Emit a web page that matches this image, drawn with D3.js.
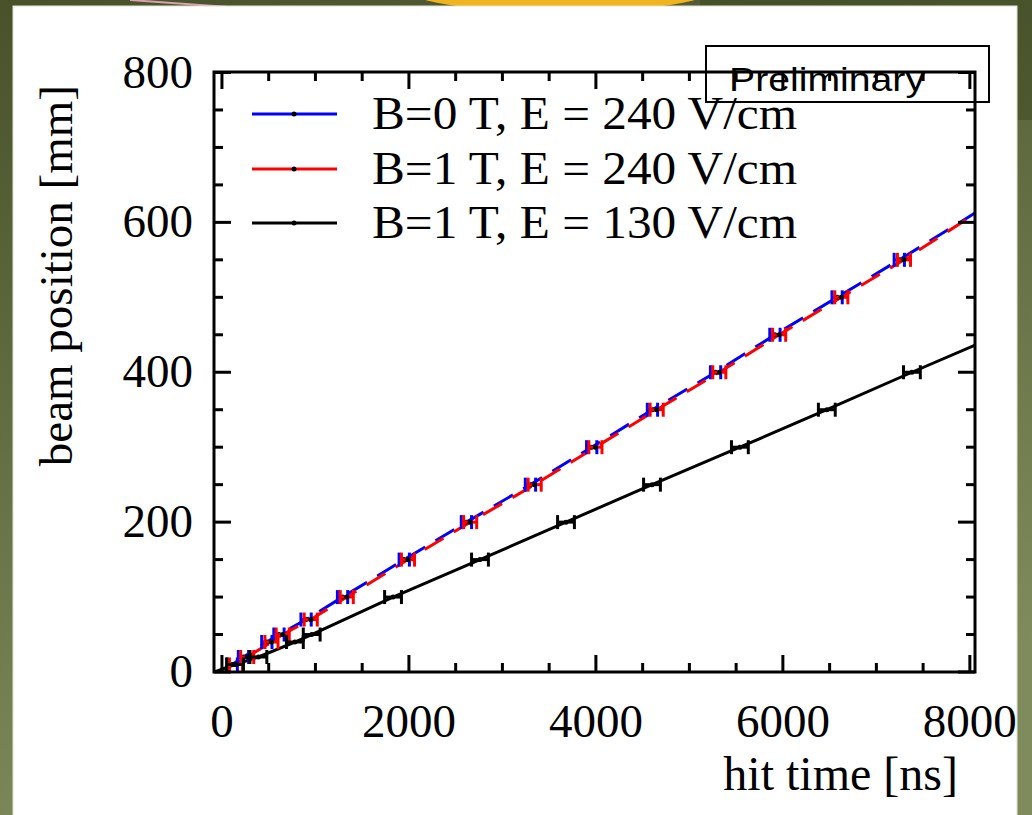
<!DOCTYPE html>
<html>
<head>
<meta charset="utf-8">
<script src="https://cdn.jsdelivr.net/npm/d3@7"></script>
<style>
  html, body { margin: 0; padding: 0; }
  body { width: 1032px; height: 815px; overflow: hidden; }
  svg { display: block; }
</style>
</head>
<body>
<div id="chart"></div>
<script>
/* Data */
const X_TICKS = [0, 2000, 4000, 6000, 8000];
const Y_TICKS = [0, 200, 400, 600, 800];

// B=0 T, E = 240 V/cm
const blueTime = [110, 230, 480, 610, 900, 1290, 1950, 2615, 3300, 3955, 4605, 5280, 5915, 6580, 7245, 8050];
const bluePos = [10, 20, 40, 50, 70, 100, 150, 200, 250, 300, 350, 400, 450, 500, 550, 612];
const blueErr = [55, 55, 55, 55, 55, 55, 55, 55, 55, 55, 55, 55, 55, 55, 55, 0];

// B=1 T, E = 240 V/cm
const redTime = [150, 270, 530, 650, 950, 1335, 1990, 2655, 3345, 3995, 4650, 5320, 5960, 6625, 7295, 8050];
const redPos = [10, 20, 40, 50, 70, 100, 150, 200, 250, 300, 350, 400, 450, 500, 550, 611];
const redErr = [70, 70, 70, 70, 70, 70, 70, 70, 70, 70, 70, 70, 70, 70, 70, 0];

// B=1 T, E = 130 V/cm
const blackTime = [-80, 140, 390, 780, 960, 1830, 2760, 3680, 4600, 5540, 6470, 7380, 8050];
const blackPos = [0, 10, 20, 40, 50, 100, 150, 200, 250, 300, 350, 400, 436];
const blackErr = [0, 90, 90, 90, 90, 90, 90, 90, 90, 90, 90, 90, 0];

const LEGEND_LABELS = ['B=0 T, E = 240 V/cm', 'B=1 T, E = 240 V/cm', 'B=1 T, E = 130 V/cm'];
const SERIES_COLORS = ['#0000ff', '#ff0000', '#000000'];

const SERIF = "'Liberation Serif', 'Times New Roman', serif";
const WIDTH = 1032;
const HEIGHT = 815;
const frame = { left: 214, right: 975, top: 72, bottom: 672 };

const svg = d3.select('#chart')
  .append('svg')
  .attr('width', WIDTH)
  .attr('height', HEIGHT);

drawBackground();

const x = d3.scaleLinear().domain([-85, 8055]).range([frame.left, frame.right]);
const y = d3.scaleLinear().domain([0, 800]).range([672, 72.5]);

const plot = svg.append('g');

plot.append('clipPath')
  .attr('id', 'plot-clip')
  .append('rect')
  .attr('x', frame.left)
  .attr('y', frame.top)
  .attr('width', frame.right - frame.left)
  .attr('height', frame.bottom - frame.top);

const series = [
  { times: blueTime, pos: bluePos, err: blueErr, color: SERIES_COLORS[0], dash: '22,12', offset: 0 },
  { times: redTime, pos: redPos, err: redErr, color: SERIES_COLORS[1], dash: '22,12', offset: 17 },
  { times: blackTime, pos: blackPos, err: blackErr, color: SERIES_COLORS[2], dash: null, offset: 0 }
];

const line = d3.line()
  .x((d) => x(d[0]))
  .y((d) => y(d[1]));

const marks = plot.append('g').attr('clip-path', 'url(#plot-clip)');

series.forEach((s) => {
  const pts = s.times.map((t, i) => [t, s.pos[i], s.err[i]]);
  marks.append('path')
    .datum(pts)
    .attr('d', line)
    .attr('fill', 'none')
    .attr('stroke', s.color)
    .attr('stroke-width', 3)
    .attr('stroke-dasharray', s.dash)
    .attr('stroke-dashoffset', s.offset);
});

series.forEach((s) => {
  const pts = s.times
    .map((t, i) => [t, s.pos[i], s.err[i]])
    .filter((d) => d[2] > 0);
  const g = marks.append('g')
    .attr('stroke', s.color)
    .attr('stroke-width', 3)
    .attr('fill', 'none');

  // horizontal error bars with end caps
  g.selectAll('line.bar')
    .data(pts)
    .join('line')
    .attr('class', 'bar')
    .attr('x1', (d) => x(d[0] - d[2]))
    .attr('x2', (d) => x(d[0] + d[2]))
    .attr('y1', (d) => y(d[1]))
    .attr('y2', (d) => y(d[1]));
  g.selectAll('line.cap')
    .data(pts.flatMap((d) => [[d[0] - d[2], d[1]], [d[0] + d[2], d[1]]]))
    .join('line')
    .attr('class', 'cap')
    .attr('x1', (d) => x(d[0]))
    .attr('x2', (d) => x(d[0]))
    .attr('y1', (d) => y(d[1]) - 7)
    .attr('y2', (d) => y(d[1]) + 7);

  marks.append('g')
    .selectAll('circle')
    .data(pts)
    .join('circle')
    .attr('cx', (d) => x(d[0]))
    .attr('cy', (d) => y(d[1]))
    .attr('r', 2.5)
    .attr('fill', '#000');
});

drawAxes();
drawLegend();

// "Preliminary" stamp
svg.append('rect')
  .attr('x', 706)
  .attr('y', 46)
  .attr('width', 283)
  .attr('height', 56)
  .attr('fill', 'none')
  .attr('stroke', '#000')
  .attr('stroke-width', 2);
svg.append('text')
  .attr('x', 729)
  .attr('y', 91)
  .attr('textLength', 196)
  .attr('lengthAdjust', 'spacingAndGlyphs')
  .style('font-family', "'Liberation Sans', Arial, sans-serif")
  .style('font-size', '33px')
  .text('Preliminary');

/**
 * Olive slide background with the white panel on top.
 */
function drawBackground () {
  const defs = svg.append('defs');
  const grad = defs.append('linearGradient')
    .attr('id', 'bg-grad')
    .attr('x1', '0').attr('y1', '0')
    .attr('x2', '0.3').attr('y2', '1');
  grad.append('stop').attr('offset', '0%').attr('stop-color', '#48512a');
  grad.append('stop').attr('offset', '100%').attr('stop-color', '#7f8b5c');

  svg.append('rect')
    .attr('width', WIDTH)
    .attr('height', HEIGHT)
    .attr('fill', 'url(#bg-grad)');
  svg.append('rect')
    .attr('x', 700)
    .attr('width', 332)
    .attr('height', 120)
    .attr('fill', '#2f3918')
    .attr('opacity', 0.35);

  // bits of the slide decoration peeking out at the top
  svg.append('ellipse')
    .attr('cx', 560)
    .attr('cy', -14)
    .attr('rx', 160)
    .attr('ry', 26)
    .attr('fill', '#f0b41c');
  svg.append('path')
    .attr('d', 'M130,0 L300,12')
    .attr('stroke', '#d9a0b0')
    .attr('stroke-width', 2);

  svg.append('rect')
    .attr('x', 13)
    .attr('y', 6)
    .attr('width', 1004)
    .attr('height', 815)
    .attr('fill', '#fff')
    .attr('stroke', '#dfe3d2')
    .attr('stroke-width', 1);
}

/**
 * Frame with ticks on all four sides plus the labels and titles.
 */
function drawAxes () {
  const axes = svg.append('g')
    .attr('stroke', '#000')
    .attr('stroke-width', 3)
    .attr('fill', 'none');

  axes.append('rect')
    .attr('x', frame.left)
    .attr('y', frame.top)
    .attr('width', frame.right - frame.left)
    .attr('height', frame.bottom - frame.top);

  const xMinor = d3.range(0, 8001, 500);
  const yMinor = d3.range(0, 801, 50);
  const tickLen = (major) => (major ? 17 : 9);

  xMinor.forEach((t) => {
    const len = tickLen(t % 2000 === 0);
    axes.append('line')
      .attr('x1', x(t)).attr('x2', x(t))
      .attr('y1', frame.bottom).attr('y2', frame.bottom - len);
    axes.append('line')
      .attr('x1', x(t)).attr('x2', x(t))
      .attr('y1', frame.top).attr('y2', frame.top + len);
  });
  yMinor.forEach((v) => {
    const len = tickLen(v % 200 === 0);
    axes.append('line')
      .attr('x1', frame.left).attr('x2', frame.left + len)
      .attr('y1', y(v)).attr('y2', y(v));
    axes.append('line')
      .attr('x1', frame.right).attr('x2', frame.right - len)
      .attr('y1', y(v)).attr('y2', y(v));
  });

  const labels = svg.append('g')
    .style('font-family', SERIF)
    .style('font-size', '47px')
    .attr('fill', '#000');

  labels.selectAll('text.xt')
    .data(X_TICKS)
    .join('text')
    .attr('class', 'xt')
    .attr('x', (d) => x(d))
    .attr('y', 737)
    .attr('text-anchor', 'middle')
    .text((d) => d);

  labels.selectAll('text.yt')
    .data(Y_TICKS)
    .join('text')
    .attr('class', 'yt')
    .attr('x', 193)
    .attr('y', (d) => y(d) + 15)
    .attr('text-anchor', 'end')
    .text((d) => d);

  labels.append('text')
    .attr('x', 958)
    .attr('y', 790)
    .attr('text-anchor', 'end')
    .style('font-size', '48px')
    .text('hit time [ns]');

  labels.append('text')
    .attr('transform', 'translate(72,85) rotate(-90)')
    .attr('text-anchor', 'end')
    .style('font-size', '47px')
    .text('beam position [mm]');
}

/**
 * Legend in the upper left of the plot.
 */
function drawLegend () {
  const rows = [114, 169, 223];
  const legend = svg.append('g');
  LEGEND_LABELS.forEach((label, i) => {
    legend.append('line')
      .attr('x1', 252).attr('x2', 337)
      .attr('y1', rows[i]).attr('y2', rows[i])
      .attr('stroke', SERIES_COLORS[i])
      .attr('stroke-width', 3);
    legend.append('circle')
      .attr('cx', 294)
      .attr('cy', rows[i])
      .attr('r', 2.5)
      .attr('fill', '#000');
    legend.append('text')
      .attr('x', 372)
      .attr('y', rows[i] + 15)
      .attr('textLength', 425)
      .attr('lengthAdjust', 'spacingAndGlyphs')
      .style('font-family', SERIF)
      .style('font-size', '46px')
      .text(label);
  });
}
</script>
</body>
</html>
